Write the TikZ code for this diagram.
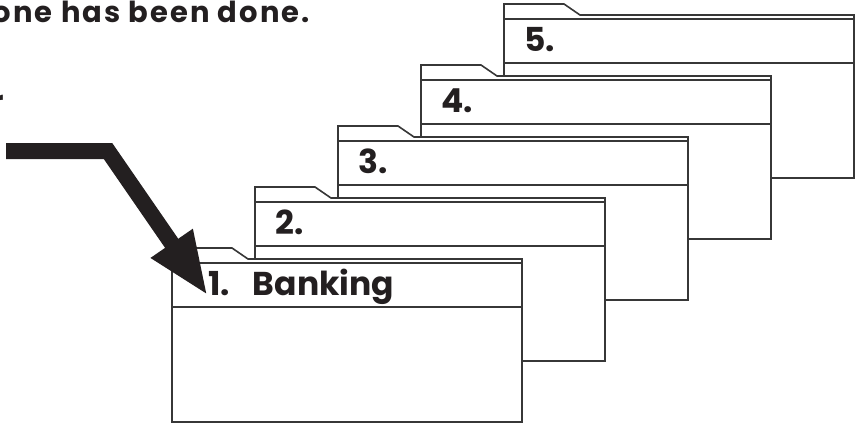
\documentclass[tikz,border=0pt]{standalone}
\usepackage{fontspec}
\setsansfont{Poppins}
\usetikzlibrary{arrows.meta}
\definecolor{ink}{RGB}{35,31,32}
\definecolor{rule}{RGB}{55,55,55}
\tikzset{
  sheet/.style={x=1pt,y=-1pt},
  folder/.style={draw=rule,line width=1.6pt,fill=white,line join=miter},
  tablabel/.style={font=\sffamily\bfseries\fontsize{33}{33}\selectfont,text=ink,anchor=base west,inner sep=0pt},
  bodytext/.style={font=\sffamily\bfseries\fontsize{29}{29}\selectfont\addfontfeature{LetterSpace=7},text=ink,anchor=base east,inner sep=0pt},
  bigarrow/.style={draw=ink,line width=16pt,-{Triangle[width=46pt,length=64pt]},line join=miter}
}

\begin{document}
\begin{tikzpicture}[sheet]
    \useasboundingbox (0,0) rectangle (855,423);
    \clip (0,0) rectangle (855,423);
    \node[bodytext] (heading) at (310,22) {one has been done.};
    \node[bodytext] (cutword) at (4,111) {r};
    % folders, back to front
    \foreach \k/\name/\dx in {5/5./20,4/4./20,3/3./20,2/2./20,1/{1.\hspace{23pt}Banking}/36} {
      \pgfmathsetmacro\xo{172+83*(\k-1)}
      \pgfmathsetmacro\yo{248-61*(\k-1)}
      \filldraw[folder] (\xo,{\yo+174}) -- (\xo,\yo) -- ({\xo+60},\yo) -- ({\xo+76},{\yo+11})
        -- ({\xo+350},{\yo+11}) -- ({\xo+350},{\yo+174}) -- cycle;
      \draw[folder] (\xo,{\yo+15}) -- ({\xo+350},{\yo+15});
      \draw[folder] (\xo,{\yo+59}) -- ({\xo+350},{\yo+59});
      \node[tablabel] (label\k) at ({\xo+\dx},{\yo+47}) {\name};
    }
    \coordinate (arrow start) at (6,151);
    \coordinate (arrow bend) at (108,151);
    \coordinate (arrow tip) at (208,296);
    \draw[bigarrow] (arrow start) -- (arrow bend) -- (arrow tip);
\end{tikzpicture}
\end{document}
